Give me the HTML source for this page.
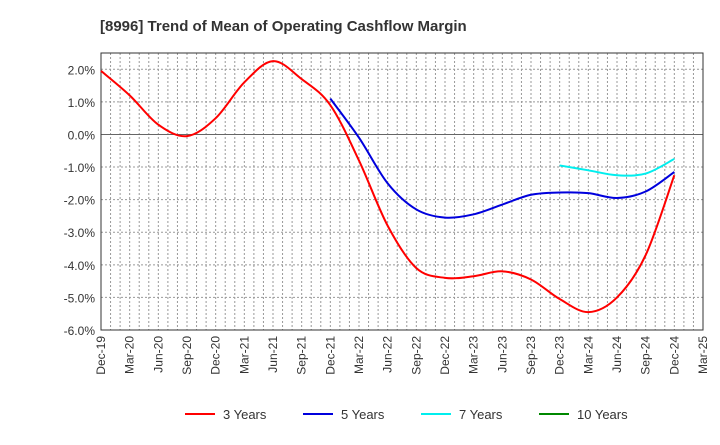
<!DOCTYPE html>
<html><head><meta charset="utf-8"><style>
body{margin:0;background:#fff;font-family:"Liberation Sans",Arial,sans-serif}
svg text{font-family:"Liberation Sans",Arial,sans-serif}
</style></head><body>
<svg id="chart" width="720" height="440" xmlns="http://www.w3.org/2000/svg">
<text x="100" y="31" font-size="15" font-weight="bold" fill="#333">[8996]  Trend of Mean of Operating Cashflow Margin</text>
<g id="grid"></g>
<g id="axes"></g>
<g id="series"></g>
<g id="legend"></g>
</svg>
<script>
const xLabels=["Dec-19","Mar-20","Jun-20","Sep-20","Dec-20","Mar-21","Jun-21","Sep-21","Dec-21","Mar-22","Jun-22","Sep-22","Dec-22","Mar-23","Jun-23","Sep-23","Dec-23","Mar-24","Jun-24","Sep-24","Dec-24","Mar-25"];
const yTicks=[2,1,0,-1,-2,-3,-4,-5,-6];
const threeYears=[1.95,1.2,0.3,-0.05,0.5,1.6,2.25,1.7,0.9,-0.8,-2.8,-4.1,-4.4,-4.35,-4.2,-4.45,-5.05,-5.45,-5.0,-3.7,-1.25];
const fiveYears=[null,null,null,null,null,null,null,null,1.1,-0.1,-1.5,-2.3,-2.55,-2.45,-2.15,-1.85,-1.78,-1.8,-1.95,-1.75,-1.15];
const sevenYears=[null,null,null,null,null,null,null,null,null,null,null,null,null,null,null,null,-0.95,-1.1,-1.25,-1.2,-0.75];
const tenYears=[];
const L=101,R=703,T=53,B=330,yMax=2.5,yMin=-6;
const NS="http://www.w3.org/2000/svg";
const X=i=>L+i*(R-L)/(xLabels.length-1);
const Y=v=>T+(yMax-v)*(B-T)/(yMax-yMin);
function mk(t,a,p){const e=document.createElementNS(NS,t);for(const k in a)e.setAttribute(k,a[k]);p.appendChild(e);return e;}
const grid=document.getElementById('grid'),axes=document.getElementById('axes'),ser=document.getElementById('series'),leg=document.getElementById('legend');
for(let m=1;m<(xLabels.length-1)*3;m++){const x=L+m*(R-L)/((xLabels.length-1)*3);
 const l=mk('line',{x1:x,x2:x,y1:T,y2:B,stroke:'#999','stroke-dasharray':'2,2','stroke-width':1},grid);
 }
yTicks.forEach(v=>{const y=Y(v);
 const l=mk('line',{x1:L,x2:R,y1:y,y2:y,stroke:v===0?'#666':'#999','stroke-dasharray':v===0?'none':'2,2','stroke-width':1},grid);
 
 const t=mk('text',{x:L-6,y:y+5,'text-anchor':'end','font-size':12,fill:'#333'},axes);t.textContent=v.toFixed(1)+'%';
 });
const fr=mk('rect',{x:L,y:T,width:R-L,height:B-T,fill:'none',stroke:'#333','stroke-width':1},axes);

xLabels.forEach((s,i)=>{const x=X(i);const t=mk('text',{x:0,y:0,'text-anchor':'end','font-size':12,fill:'#333',transform:`translate(${x+4},${B+6}) rotate(-90)`},axes);t.textContent=s;
 });
function path(arr,color,name){const pts=[];arr.forEach((v,i)=>{if(v!==null&&v!==undefined)pts.push([X(i),Y(v)]);});if(pts.length<2)return;
 let d=`M${pts[0][0]},${pts[0][1]}`;
 for(let i=0;i<pts.length-1;i++){const p0=pts[Math.max(0,i-1)],p1=pts[i],p2=pts[i+1],p3=pts[Math.min(pts.length-1,i+2)];
  d+=` C${p1[0]+(p2[0]-p0[0])/6},${p1[1]+(p2[1]-p0[1])/6} ${p2[0]-(p3[0]-p1[0])/6},${p2[1]-(p3[1]-p1[1])/6} ${p2[0]},${p2[1]}`;}
 const e=mk('path',{d:d,fill:'none',stroke:color,'stroke-width':2},ser);
 }
path(threeYears,'#ff0000','line-3-years');path(fiveYears,'#0000dd','line-5-years');path(sevenYears,'#00eeee','line-7-years');path(tenYears,'#008800','line-10-years');
const items=[['3 Years','#ff0000',185],['5 Years','#0000dd',303],['7 Years','#00eeee',421],['10 Years','#008800',539]];
items.forEach(([s,c,x])=>{const g=mk('g',{},leg);
 mk('line',{x1:x,x2:x+30,y1:414,y2:414,stroke:c,'stroke-width':2},g);
 const t=mk('text',{x:x+38,y:419,'font-size':13,fill:'#333'},g);t.textContent=s;});
</script>
</body></html>
